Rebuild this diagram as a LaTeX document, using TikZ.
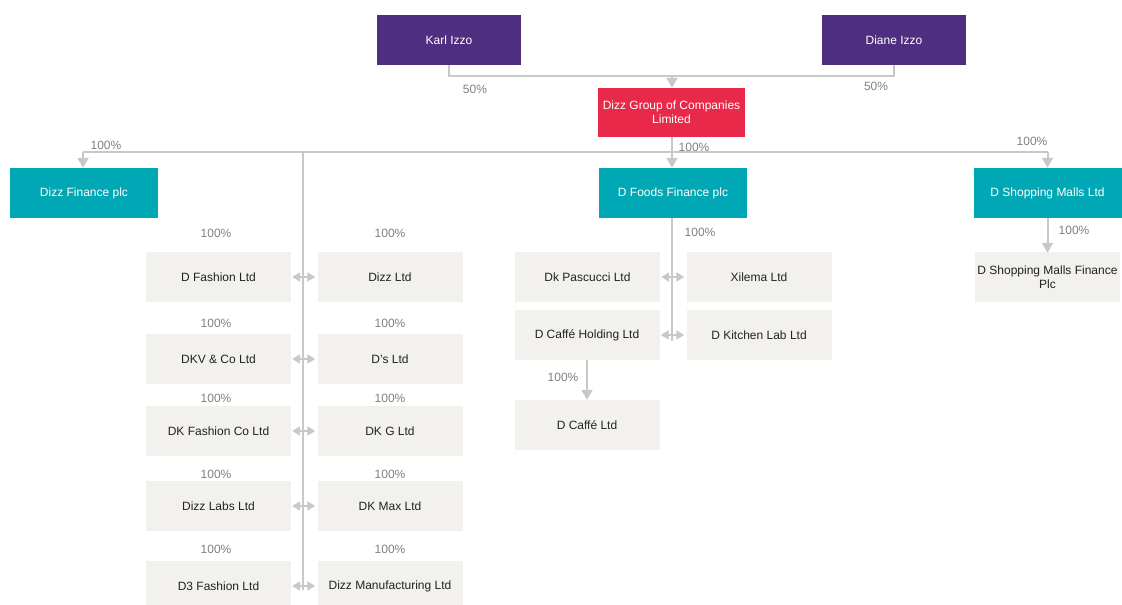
\documentclass[tikz,border=0pt]{standalone}
\usepackage{fontspec}
\setmainfont{Liberation Sans}
\usetikzlibrary{arrows.meta}
\definecolor{cpurple}{HTML}{4F2D7F}
\definecolor{cred}{HTML}{E8294A}
\definecolor{cteal}{HTML}{00A7B5}
\definecolor{cbox}{HTML}{F2F1EE}
\definecolor{cline}{HTML}{C8C8C8}
\definecolor{cpct}{HTML}{808080}
\definecolor{ctext}{HTML}{222222}
\tikzset{
  base/.style={rectangle, inner sep=0pt, align=center, font=\fontsize{12}{14}\selectfont},
  person/.style={base, fill=cpurple, text=white, minimum width=144pt, minimum height=50pt},
  holding/.style={base, fill=cred, text=white, minimum width=147pt, minimum height=49pt},
  fin/.style={base, fill=cteal, text=white, minimum width=148pt, minimum height=50pt},
  sub/.style={base, fill=cbox, text=ctext, minimum width=145pt, minimum height=50pt},
  pct/.style={inner sep=0pt, text=cpct, font=\fontsize{12}{14}\selectfont},
  conn/.style={draw=cline, line width=2pt},
  arr/.style={conn, -{Triangle[length=10pt,width=11pt]}},
  darr/.style={conn, {Triangle[length=8pt,width=9pt]}-{Triangle[length=8pt,width=9pt]}},
}
\begin{document}
\begin{tikzpicture}[x=1pt,y=-1pt]
\useasboundingbox (0,0) rectangle (1122,605);
\clip (0,0) rectangle (1122,605);
% top
\node[person] (karl) at (449,40) {Karl Izzo};
\node[person] (diane) at (894,40) {Diane Izzo};
\node[holding] (dg) at (671.5,112.5) {Dizz Group of Companies\\Limited};
\node[fin] (dfin) at (84,193) {Dizz Finance plc};
\node[fin] (dfoods) at (673,193) {D Foods Finance plc};
\node[fin] (dshop) at (1047.5,193) {D Shopping Malls Ltd};
\node[sub] (dshopf) at (1047.5,277) {D Shopping Malls Finance\\Plc};
% left columns
\node[sub] (l1) at (218.5,277) {D Fashion Ltd};
\node[sub] (r1) at (390,277) {Dizz Ltd};
\node[sub] (l2) at (218.5,359) {DKV \& Co Ltd};
\node[sub] (r2) at (390,359) {D’s Ltd};
\node[sub] (l3) at (218.5,431) {DK Fashion Co Ltd};
\node[sub] (r3) at (390,431) {DK G Ltd};
\node[sub] (l4) at (218.5,506) {Dizz Labs Ltd};
\node[sub] (r4) at (390,506) {DK Max Ltd};
\node[sub] (l5) at (218.5,586) {D3 Fashion Ltd};
\node[sub] (r5) at (390,586) {Dizz Manufacturing Ltd};
% foods
\node[sub] (fp) at (587.5,277) {Dk Pascucci Ltd};
\node[sub] (fx) at (759,277) {Xilema Ltd};
\node[sub] (fch) at (587,335) {D Caffé Holding Ltd};
\node[sub] (fk) at (759,335) {D Kitchen Lab Ltd};
\node[sub] (fc) at (587,425) {D Caffé Ltd};
% percent labels
\node[pct] (p1) at (475,89) {50\%};
\node[pct] (p2) at (876,86) {50\%};
\node[pct] (p3) at (694,147) {100\%};
\node[pct] (p4) at (106,145) {100\%};
\node[pct] (p5) at (1032,141) {100\%};
\node[pct] (p6) at (700,232) {100\%};
\node[pct] (p7) at (1074,230) {100\%};
\node[pct] (p8) at (563,377) {100\%};
\foreach \y [count=\i] in {233,323,398,474,549}{
  \node[pct] (pl\i) at (216,\y) {100\%};
  \node[pct] (pr\i) at (390,\y) {100\%};
}
% connectors
\coordinate (j1) at (672,76);
\draw[conn] (karl.south) |- (j1) -| (diane.south);
\draw[arr] (j1) -- (dg.north -| j1);
\coordinate (j2) at (672,152);
\coordinate (hL) at (83,152);
\coordinate (hR) at (1047.5,152);
\coordinate (jv) at (303,152);
\coordinate (jvb) at (303,590);
\draw[arr] (dg.south -| j2) -- (dfoods.north -| j2);
\draw[conn] (hL) -- (hR);
\draw[arr] (hL) -- (hL |- dfin.north);
\draw[arr] (hR) -- (dshop.north);
\draw[conn] (jv) -- (jvb);
\foreach \i in {1,...,5}{
  \draw[darr] ([xshift=1pt]l\i.east) -- ([xshift=-2pt]r\i.west);
}
\coordinate (fb) at (672,341);
\draw[conn] (dfoods.south -| fb) -- (fb);
\draw[darr] ([xshift=1pt]fp.east) -- ([xshift=-2pt]fx.west);
\draw[darr] ([xshift=1pt]fch.east) -- ([xshift=-2pt]fk.west);
\draw[arr] (fch.south) -- (fc.north);
\draw[arr] (dshop.south) -- ([yshift=-1pt]dshopf.north);
\end{tikzpicture}
\end{document}
